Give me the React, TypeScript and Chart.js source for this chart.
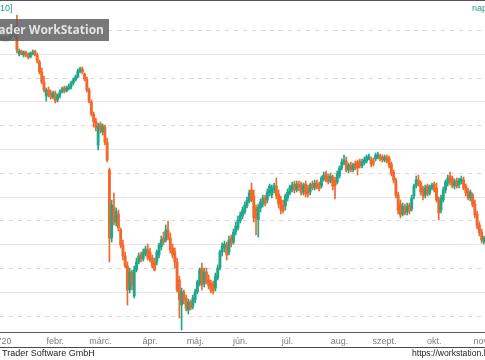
import React, { useEffect, useRef } from "react";
import { Chart, registerables } from "chart.js";

Chart.register(...registerables);

// ---- Data (OTP-like daily candles, HUF) ----
const monthLabels = ["'20", "febr.", "márc.", "ápr.", "máj.", "jún.", "júl.", "aug.", "szept.", "okt.", "nov."];
const monthTradingDays = [22, 20, 22, 20, 20, 21, 23, 20, 22, 21, 2];
const leadingDays = 2; // last sessions of Dec 2019

const open = [
  14332, 14353, 14290, 14353, 14311, 14395, 14458, 14563, 13996, 14059,
  13975, 14038, 13996, 13933, 13996, 14059, 13975, 13828, 13618, 13408,
  13114, 13240, 13177, 13093, 13177, 13030, 13114, 13198, 13282, 13219,
  13261, 13303, 13387, 13450, 13513, 13618, 13681, 13576, 13471, 13240,
  12988, 12736, 12589, 12085, 12526, 12358, 12463, 12148, 11560, 10132,
  10783, 10468, 10636, 10300, 9985, 9754, 9544, 9040, 9418, 8914,
  9460, 9628, 9775, 9691, 9796, 9880, 9838, 9712, 9628, 9628,
  9775, 9943, 10132, 10090, 10300, 10132, 9922, 9838, 9628, 9250,
  8725, 9002, 8872, 8620, 8788, 8704, 8830, 9002, 9166, 9502,
  9166, 9418, 9250, 9187, 9166, 9082, 9292, 9502, 9838, 9922,
  9985, 9838, 10132, 10048, 10258, 10342, 10489, 10594, 10678, 10804,
  10909, 11140, 11014, 10762, 10510, 10762, 10846, 10972, 10930, 11077,
  11035, 11140, 11224, 11056, 10930, 10825, 10804, 10972, 11077, 11140,
  11266, 11140, 11266, 11245, 11098, 11266, 11182, 11098, 11266, 11182,
  11287, 11266, 11224, 11371, 11476, 11434, 11329, 11413, 11350, 11308,
  11434, 11602, 11707, 11749, 11560, 11665, 11560, 11686, 11728, 11749,
  11644, 11707, 11749, 11791, 11791, 11749, 11791, 11833, 11854, 11833,
  11770, 11833, 11812, 11686, 11518, 11350, 11035, 10846, 10636, 10783,
  10678, 10825, 10741, 11014, 11224, 11350, 11287, 11161, 11035, 11224,
  11077, 11182, 11266, 11182, 10930, 10720, 10930, 11140, 11287, 11434,
  11392, 11224, 11329, 11245, 11308, 11350, 11224, 11119, 10972, 11035,
  10846, 10636, 10405, 10258, 10048,
];
const high = [
  14395, 14374, 14374, 14374, 14416, 14479, 14584, 14815, 14101, 14080,
  14059, 14059, 14017, 14038, 14080, 14080, 14017, 13870, 13702, 13534,
  13282, 13303, 13240, 13219, 13219, 13156, 13240, 13303, 13324, 13324,
  13366, 13429, 13492, 13555, 13681, 13723, 13723, 13597, 13513, 13282,
  13030, 12778, 12652, 12547, 12568, 12526, 12505, 12232, 11602, 10930,
  11077, 10762, 10720, 10342, 10090, 9838, 9628, 9502, 9460, 9544,
  9712, 9817, 9838, 9901, 9964, 10006, 9922, 9775, 9712, 9880,
  10027, 10174, 10258, 10405, 10489, 10237, 10006, 9922, 9712, 9334,
  9082, 9040, 8935, 8851, 8830, 8935, 9061, 9250, 9502, 9607,
  9502, 9502, 9355, 9250, 9229, 9397, 9565, 9880, 10027, 10069,
  10048, 10174, 10195, 10321, 10468, 10594, 10678, 10783, 10888, 10993,
  11140, 11287, 11140, 10825, 10846, 10951, 11035, 11035, 11161, 11266,
  11245, 11287, 11392, 11140, 11014, 10930, 11056, 11161, 11245, 11308,
  11329, 11329, 11329, 11308, 11287, 11329, 11245, 11287, 11329, 11350,
  11350, 11308, 11434, 11518, 11539, 11476, 11497, 11455, 11413, 11539,
  11644, 11791, 11875, 11833, 11707, 11728, 11707, 11749, 11770, 11791,
  11791, 11833, 11875, 11896, 11833, 11812, 11917, 11938, 11896, 11875,
  11875, 11875, 11854, 11728, 11560, 11392, 11098, 10930, 10867, 10846,
  10867, 10867, 11035, 11266, 11434, 11455, 11329, 11224, 11245, 11266,
  11245, 11287, 11308, 11287, 10993, 11035, 11203, 11350, 11455, 11518,
  11434, 11371, 11392, 11392, 11434, 11413, 11266, 11182, 11140, 11077,
  10930, 10699, 10468, 10321, 10174,
];
const low = [
  14290, 14269, 14269, 14269, 14290, 14353, 14353, 14017, 13954, 13975,
  13933, 13933, 13891, 13912, 13975, 13954, 13807, 13576, 13366, 13198,
  13009, 13093, 13051, 13051, 12967, 12988, 13072, 13177, 13177, 13198,
  13240, 13261, 13345, 13429, 13492, 13597, 13576, 13429, 13198, 12967,
  12694, 12463, 12379, 11980, 12337, 12295, 12085, 11728, 9628, 10048,
  10405, 10384, 10279, 9922, 9670, 9502, 8725, 8977, 9040, 8872,
  9418, 9586, 9628, 9649, 9754, 9670, 9628, 9502, 9439, 9565,
  9712, 9880, 9985, 10048, 10090, 9817, 9712, 9502, 9002, 8452,
  8200, 8746, 8599, 8536, 8620, 8641, 8767, 8956, 9124, 9040,
  9103, 9166, 9061, 8977, 8956, 9019, 9250, 9460, 9754, 9838,
  9670, 9775, 9943, 10006, 10195, 10300, 10447, 10531, 10636, 10762,
  10867, 10888, 10468, 10195, 10153, 10678, 10783, 10804, 10867, 11014,
  10972, 11077, 10951, 10762, 10636, 10657, 10720, 10909, 11035, 11098,
  11077, 11098, 11119, 11035, 11035, 10993, 10993, 11035, 11140, 11140,
  11161, 11119, 11182, 11329, 11308, 11266, 11287, 11140, 10951, 11266,
  11392, 11560, 11665, 11518, 11497, 11518, 11518, 11560, 11455, 11602,
  11602, 11665, 11707, 11770, 11623, 11644, 11749, 11791, 11749, 11728,
  11728, 11707, 11602, 11434, 11287, 10972, 10636, 10552, 10594, 10615,
  10615, 10636, 10699, 10951, 11182, 11224, 11035, 10930, 10972, 11014,
  11035, 11140, 11098, 10888, 10510, 10657, 10888, 11077, 11224, 11245,
  11182, 11161, 11182, 11182, 11266, 11140, 11014, 10930, 10909, 10783,
  10552, 10321, 10174, 10027, 10006,
];
const close = [
  14353, 14311, 14353, 14311, 14395, 14458, 14542, 14080, 14059, 13996,
  14038, 13975, 13933, 14017, 14038, 13975, 13849, 13618, 13408, 13240,
  13240, 13135, 13093, 13177, 13009, 13135, 13198, 13261, 13219, 13282,
  13324, 13387, 13450, 13513, 13639, 13681, 13618, 13471, 13240, 13009,
  12736, 12568, 12442, 12484, 12400, 12484, 12148, 11770, 10132, 10825,
  10468, 10678, 10342, 9985, 9754, 9544, 9040, 9418, 9145, 9460,
  9628, 9754, 9691, 9838, 9901, 9712, 9670, 9544, 9460, 9838,
  9985, 10090, 10048, 10300, 10132, 9880, 9775, 9628, 9040, 8830,
  9002, 8830, 8662, 8788, 8662, 8872, 9002, 9208, 9460, 9145,
  9418, 9208, 9124, 9040, 9019, 9334, 9502, 9838, 9964, 10006,
  9775, 10090, 10006, 10258, 10384, 10510, 10615, 10720, 10825, 10930,
  11077, 10930, 10552, 10552, 10783, 10888, 10972, 10846, 11098, 11224,
  11182, 11224, 11014, 10846, 10720, 10699, 11014, 11098, 11203, 11245,
  11140, 11266, 11182, 11077, 11245, 11056, 11056, 11245, 11182, 11287,
  11203, 11161, 11392, 11455, 11350, 11308, 11434, 11224, 11224, 11476,
  11602, 11728, 11770, 11560, 11665, 11560, 11665, 11602, 11602, 11644,
  11728, 11770, 11833, 11854, 11686, 11686, 11875, 11875, 11791, 11770,
  11833, 11749, 11665, 11476, 11350, 11035, 10720, 10615, 10804, 10657,
  10804, 10699, 10972, 11224, 11350, 11266, 11098, 11014, 11182, 11056,
  11203, 11245, 11140, 10930, 10657, 10972, 11140, 11308, 11392, 11308,
  11224, 11329, 11224, 11350, 11371, 11182, 11077, 10972, 11098, 10825,
  10615, 10384, 10237, 10090, 10132,
];

const gridLevels = [8500, 9000, 9500, 10000, 10500, 11000, 11500, 12000, 12500, 13000, 13500, 14000, 14500];
const yMin = 8158;
const yMax = 15088;

const GREEN = "#1ea88b";
const ORANGE = "#f2672a";
const TEAL_TEXT = "#1f9f86";

const categories: string[] = [];
for (let i = 0; i < leadingDays; i++) categories.push("");
monthTradingDays.forEach((n, m) => {
  for (let d = 0; d < n; d++) categories.push(d === 0 ? monthLabels[m] : "");
});

const candleColors = open.map((o, i) => (close[i] >= o ? GREEN : ORANGE));

const decorPlugin = {
  id: "decor",
  beforeDatasetsDraw(chart: any) {
    const { ctx, chartArea, scales } = chart;
    const y = scales.y;
    ctx.save();
    ctx.lineWidth = 1;
    gridLevels.forEach((v) => {
      const py = Math.round(y.getPixelForValue(v)) + 0.5;
      const solid = v % 1000 === 0;
      ctx.beginPath();
      ctx.setLineDash(solid ? [] : [4, 5]);
      ctx.strokeStyle = solid ? "#e6e6e6" : "#d9d9d9";
      ctx.moveTo(chartArea.left, py);
      ctx.lineTo(chartArea.right, py);
      ctx.stroke();
    });
    ctx.restore();
  },
  afterDraw(chart: any) {
    const { ctx, width } = chart;
    ctx.save();
    // top frame line
    ctx.fillStyle = "#555555";
    ctx.fillRect(0, 0, width, 1);
    // title texts
    ctx.font = "9px 'Liberation Sans', Arial, sans-serif";
    ctx.fillStyle = TEAL_TEXT;
    ctx.textBaseline = "alphabetic";
    ctx.textAlign = "right";
    ctx.fillText("[10]", 12.5, 11);
    ctx.textAlign = "left";
    ctx.fillText("napi", 472, 11);
    // watermark
    ctx.fillStyle = "rgba(98,98,98,0.86)";
    ctx.fillRect(0, 19, 109, 22);
    ctx.font = "bold 12px 'Open Sans', 'Liberation Sans', sans-serif";
    ctx.fillStyle = "#e4e4e4";
    ctx.textAlign = "right";
    ctx.textBaseline = "middle";
    ctx.fillText("Trader WorkStation", 104, 30.5);
    // bottom frame
    ctx.fillStyle = "#4a4a4a";
    ctx.fillRect(0, 347, width, 1);
    ctx.font = "9px 'Liberation Sans', Arial, sans-serif";
    ctx.fillStyle = "#222222";
    ctx.textBaseline = "alphabetic";
    ctx.textAlign = "left";
    ctx.fillText("Trader Software GmbH", 2, 356);
    ctx.font = "8.6px 'Liberation Sans', Arial, sans-serif";
    ctx.fillText("https://workstation.hu", 412, 356);
    ctx.restore();
  },
};

export default function App() {
  const canvasRef = useRef<HTMLCanvasElement | null>(null);

  useEffect(() => {
    if (!canvasRef.current) return;
    const chart = new Chart(canvasRef.current, {
      type: "bar",
      data: {
        labels: categories,
        datasets: [
          {
            label: "body",
            data: open.map((o, i) => [o, close[i]]),
            backgroundColor: candleColors,
            borderWidth: 0,
            barThickness: 2.2,
            minBarLength: 1,
            grouped: false,
            order: 1,
          } as any,
          {
            label: "wick",
            data: low.map((l, i) => [l, high[i]]),
            backgroundColor: candleColors,
            borderWidth: 0,
            barThickness: 1,
            grouped: false,
            order: 2,
          } as any,
        ],
      },
      options: {
        animation: false,
        responsive: false,
        devicePixelRatio: 1,
        layout: { padding: { top: 2, bottom: 13, left: 0, right: 0 } },
        plugins: { legend: { display: false }, tooltip: { enabled: false } },
        scales: {
          x: {
            type: "category",
            offset: true,
            grid: { display: false, drawTicks: false, tickLength: 0 },
            border: { display: true, color: "#5a5a5a", width: 1 },
            ticks: {
              autoSkip: false,
              maxRotation: 0,
              minRotation: 0,
              padding: 4,
              color: "#7c7c7c",
              font: { family: "'Liberation Sans', Arial, sans-serif", size: 9 },
              callback: (_v: any, i: number) => categories[i],
            },
            afterFit: (s: any) => {
              s.height = 15;
              s.paddingLeft = 0;
              s.paddingRight = 0;
            },
          },
          y: {
            display: false,
            min: yMin,
            max: yMax,
          },
        },
      },
      plugins: [decorPlugin],
    });
    return () => chart.destroy();
  }, []);

  return (
    <div style={{ position: "fixed", left: 0, top: 0, width: 485, height: 360, background: "#fff" }}>
      <canvas ref={canvasRef} width={485} height={360} style={{ display: "block", width: 485, height: 360 }} />
    </div>
  );
}
